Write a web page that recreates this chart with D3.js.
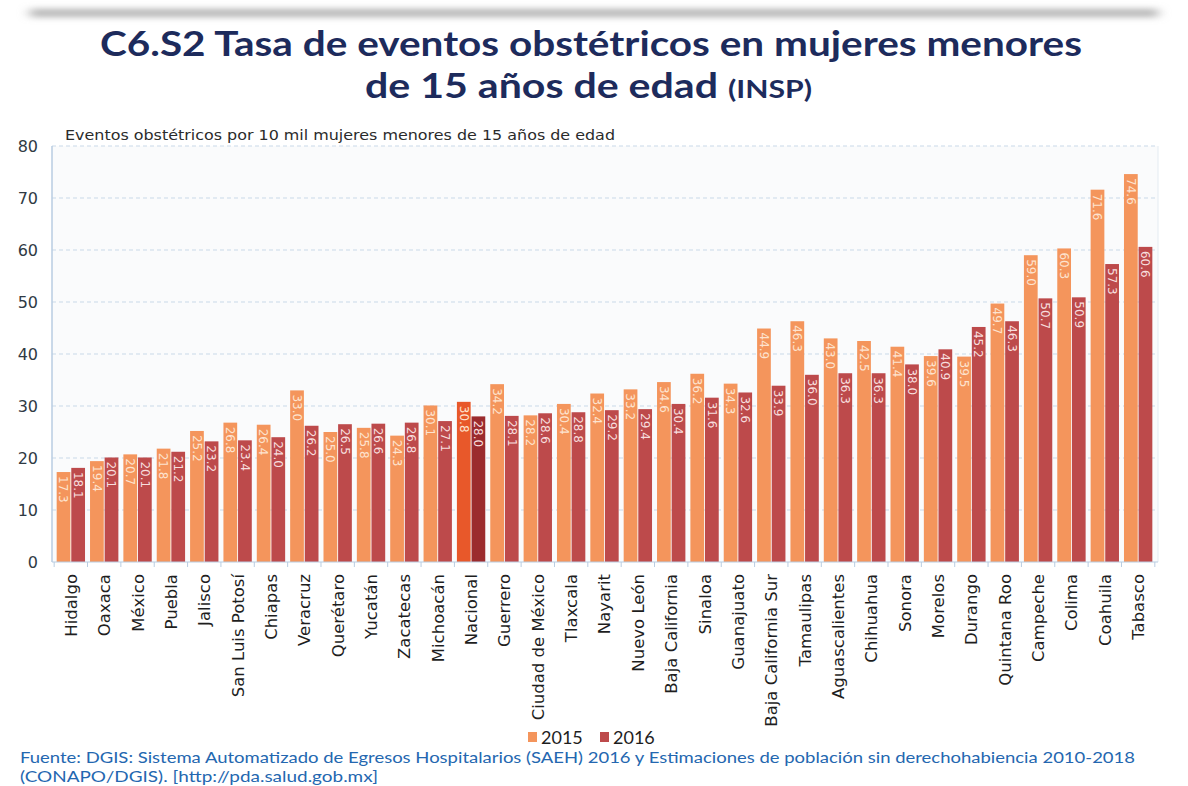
<!DOCTYPE html>
<html>
<head>
<meta charset="utf-8">
<script src="https://cdn.jsdelivr.net/npm/d3@7"></script>
<style>
  body { margin: 0; background: #fff; }
  svg { display: block; }
</style>
</head>
<body>
<div id="chart"></div>
<script>

var categories = ["Hidalgo", "Oaxaca", "México", "Puebla", "Jalisco", "San Luis Potosí",
  "Chiapas", "Veracruz", "Querétaro", "Yucatán", "Zacatecas", "Michoacán", "Nacional",
  "Guerrero", "Ciudad de México", "Tlaxcala", "Nayarit", "Nuevo León", "Baja California",
  "Sinaloa", "Guanajuato", "Baja California Sur", "Tamaulipas", "Aguascalientes",
  "Chihuahua", "Sonora", "Morelos", "Durango", "Quintana Roo", "Campeche", "Colima",
  "Coahuila", "Tabasco"];

var values2015 = [17.3, 19.4, 20.7, 21.8, 25.2, 26.8, 26.4, 33.0, 25.0, 25.8, 24.3, 30.1, 30.8,
  34.2, 28.2, 30.4, 32.4, 33.2, 34.6, 36.2, 34.3, 44.9, 46.3, 43.0, 42.5, 41.4, 39.6, 39.5,
  49.7, 59.0, 60.3, 71.6, 74.6];

var values2016 = [18.1, 20.1, 20.1, 21.2, 23.2, 23.4, 24.0, 26.2, 26.5, 26.6, 26.8, 27.1, 28.0,
  28.1, 28.6, 28.8, 29.2, 29.4, 30.4, 31.6, 32.6, 33.9, 36.0, 36.3, 36.3, 38.0, 40.9, 45.2,
  46.3, 50.7, 50.9, 57.3, 60.6];

var seriesNames = ["2015", "2016"];
var yTicks = [0, 10, 20, 30, 40, 50, 60, 70, 80];

var width = 1188, height = 786;
var margin = {top: 146, right: 30, bottom: 224, left: 52};
var innerW = width - margin.left - margin.right,
    innerH = height - margin.top - margin.bottom;

var colors = {"2015": "#f4955c", "2016": "#bd4a4b"};
var natColors = {"2015": "#e8582a", "2016": "#9b2b2d"};

var svg = d3.select("#chart").append("svg")
    .attr("width", width)
    .attr("height", height);

// soft grey shadow line at the very top
var defs = svg.append("defs");
defs.append("filter").attr("id", "blur")
    .attr("x", "-5%").attr("y", "-200%").attr("width", "110%").attr("height", "500%")
  .append("feGaussianBlur").attr("stdDeviation", "6 3");
svg.append("rect")
    .attr("x", 30).attr("y", 9).attr("width", 1128).attr("height", 8)
    .attr("fill", "#b4b4b4")
    .attr("filter", "url(#blur)");

// title
var title = svg.append("g")
    .style("font-family", "Lato, 'Open Sans', sans-serif")
    .style("font-weight", "bold")
    .attr("fill", "#1d2b5c");

title.append("text")
    .attr("x", 100).attr("y", 56)
    .attr("font-size", 34)
    .attr("textLength", 982)
    .attr("lengthAdjust", "spacingAndGlyphs")
    .text("C6.S2 Tasa de eventos obstétricos en mujeres menores");

var t2 = title.append("text")
    .attr("x", 365).attr("y", 98)
    .attr("font-size", 34)
    .attr("textLength", 447)
    .attr("lengthAdjust", "spacingAndGlyphs");
t2.append("tspan").text("de 15 años de edad ");
t2.append("tspan").attr("font-size", 25).text("(INSP)");

var g = svg.append("g")
    .attr("transform", "translate(" + margin.left + "," + margin.top + ")");

var x = d3.scaleBand()
    .domain(categories)
    .range([2, innerW - 3])
    .paddingInner(0.15)
    .paddingOuter(0.08);

var xs = d3.scaleBand()
    .domain(seriesNames)
    .range([0, x.bandwidth()])
    .paddingInner(0.06);

var y = d3.scaleLinear()
    .domain([0, 80])
    .range([innerH, 0]);

// plot background
g.append("rect")
    .attr("width", innerW).attr("height", innerH)
    .attr("fill", "#fafbfc");

// gridlines
g.append("g").selectAll("line")
    .data(yTicks.filter(function(d) { return d > 0; }))
  .enter().append("line")
    .attr("x1", 0).attr("x2", innerW)
    .attr("y1", function(d) { return y(d); })
    .attr("y2", function(d) { return y(d); })
    .attr("stroke", "#c9d9e8")
    .attr("stroke-dasharray", "4,3");

// axes lines
g.append("line")
    .attr("x1", 0).attr("x2", 0).attr("y1", 0).attr("y2", innerH)
    .attr("stroke", "#b9cde2").attr("stroke-width", 1.5);
g.append("line")
    .attr("x1", innerW).attr("x2", innerW).attr("y1", 0).attr("y2", innerH)
    .attr("stroke", "#e4ebf2");

// y tick labels
g.append("g").selectAll("text")
    .data(yTicks)
  .enter().append("text")
    .attr("x", -14)
    .attr("y", function(d) { return y(d); })
    .attr("dy", "0.35em")
    .attr("text-anchor", "end")
    .style("font-family", "'DejaVu Sans', sans-serif")
    .attr("font-size", 16)
    .attr("fill", "#2f3a44")
    .text(function(d) { return d; });

// bars
var rows = categories.map(function(c, i) {
  return {cat: c, vals: [
    {key: "2015", value: values2015[i]},
    {key: "2016", value: values2016[i]}
  ]};
});

var groups = g.append("g").selectAll("g")
    .data(rows)
  .enter().append("g")
    .attr("transform", function(d) { return "translate(" + x(d.cat) + ",0)"; });

groups.selectAll("rect")
    .data(function(d) { return d.vals.map(function(v) { return {cat: d.cat, key: v.key, value: v.value}; }); })
  .enter().append("rect")
    .attr("x", function(d) { return xs(d.key); })
    .attr("width", xs.bandwidth())
    .attr("y", function(d) { return y(d.value); })
    .attr("height", function(d) { return innerH - y(d.value); })
    .attr("fill", function(d) { return d.cat === "Nacional" ? natColors[d.key] : colors[d.key]; });

groups.selectAll("text")
    .data(function(d) { return d.vals; })
  .enter().append("text")
    .attr("transform", function(d) {
      return "translate(" + (xs(d.key) + xs.bandwidth() / 2) + "," + (y(d.value) + 4) + ") rotate(90)";
    })
    .attr("dy", "0.35em")
    .style("font-family", "'DejaVu Sans', sans-serif")
    .attr("font-size", 12)
    .attr("fill", function(d) { return d.key === "2015" ? "#fde3cf" : "#f7dede"; })
    .text(function(d) { return d.value.toFixed(1); });

// x axis line + ticks
g.append("line")
    .attr("x1", 0).attr("x2", innerW)
    .attr("y1", innerH).attr("y2", innerH)
    .attr("stroke", "#b9cde2");

var step = x.step();
g.append("g").selectAll("line")
    .data(d3.range(categories.length + 1))
  .enter().append("line")
    .attr("x1", function(i) { return x(categories[0]) - step * x.paddingInner() / 2 + i * step; })
    .attr("x2", function(i) { return x(categories[0]) - step * x.paddingInner() / 2 + i * step; })
    .attr("y1", innerH).attr("y2", innerH + 5)
    .attr("stroke", "#b9cde2");

// category labels
g.append("g").selectAll("text")
    .data(categories)
  .enter().append("text")
    .attr("transform", function(d) {
      return "translate(" + (x(d) + x.bandwidth() / 2) + "," + (innerH + 12) + ") rotate(-90)";
    })
    .attr("dy", "0.36em")
    .attr("text-anchor", "end")
    .style("font-family", "'DejaVu Sans', sans-serif")
    .attr("font-size", 16.5)
    .attr("fill", "#1e1e1e")
    .text(function(d) { return d; });

// y axis caption
svg.append("text")
    .attr("x", 65).attr("y", 140)
    .style("font-family", "'DejaVu Sans', sans-serif")
    .attr("font-size", 14)
    .attr("textLength", 550)
    .attr("lengthAdjust", "spacingAndGlyphs")
    .attr("fill", "#2b2b2b")
    .text("Eventos obstétricos por 10 mil mujeres menores de 15 años de edad");

// legend
var legend = svg.append("g")
    .attr("transform", "translate(528,738)");
var li = legend.selectAll("g")
    .data(seriesNames)
  .enter().append("g")
    .attr("transform", function(d, i) { return "translate(" + (i * 72) + ",0)"; });
li.append("rect")
    .attr("x", 0).attr("y", -6)
    .attr("width", 9).attr("height", 10)
    .attr("fill", function(d) { return colors[d]; });
li.append("text")
    .attr("x", 13).attr("y", 0)
    .attr("dy", "0.35em")
    .style("font-family", "Lato, sans-serif")
    .attr("font-size", 18)
    .attr("fill", "#1e1e1e")
    .text(function(d) { return d; });

// source note
var note = svg.append("g")
    .style("font-family", "Lato, 'Open Sans', sans-serif")
    .attr("font-size", 16)
    .attr("fill", "#2467b0");
note.append("text")
    .attr("x", 20).attr("y", 763)
    .attr("textLength", 1115)
    .attr("lengthAdjust", "spacingAndGlyphs")
    .text("Fuente: DGIS: Sistema Automatizado de Egresos Hospitalarios (SAEH) 2016 y Estimaciones de población sin derechohabiencia 2010-2018");
note.append("text")
    .attr("x", 20).attr("y", 782)
    .attr("textLength", 358)
    .attr("lengthAdjust", "spacingAndGlyphs")
    .text("(CONAPO/DGIS). [http://pda.salud.gob.mx]");

</script>
</body>
</html>
